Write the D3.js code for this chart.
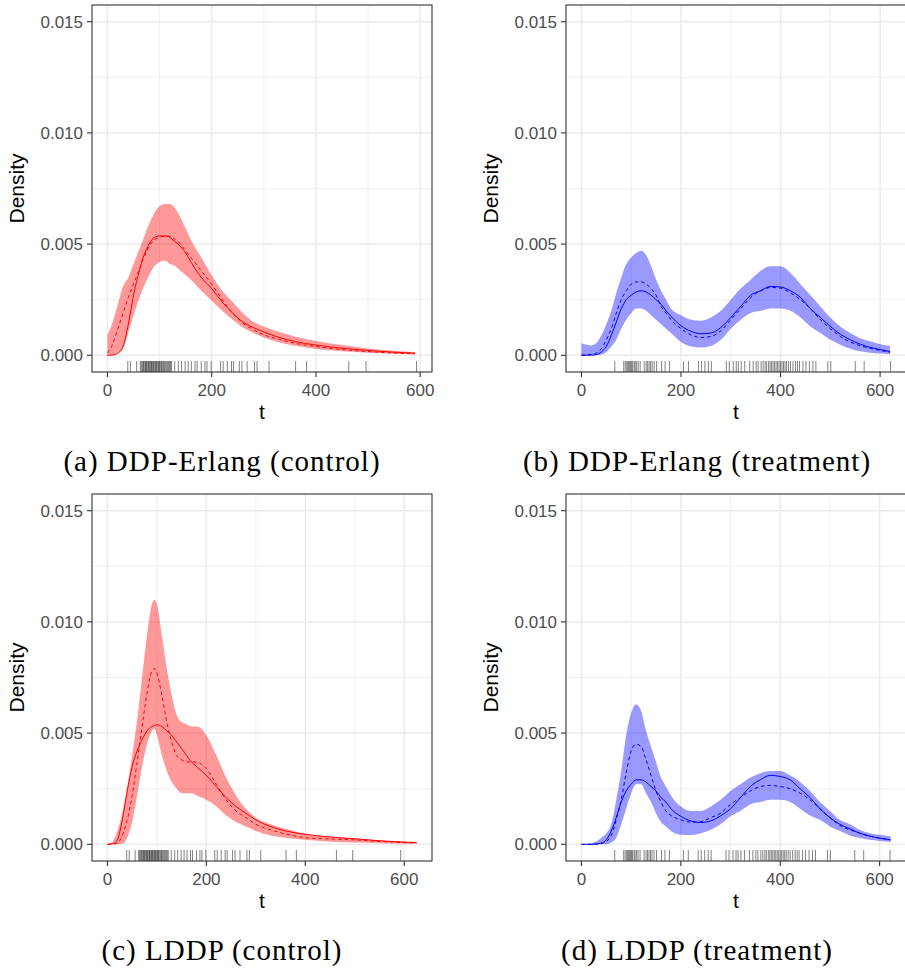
<!DOCTYPE html>
<html>
<head>
<meta charset="utf-8">
<script src="https://cdn.jsdelivr.net/npm/d3@7"></script>
<style>
  body { margin: 0; background: #fff; }
  svg { display: block; }
</style>
</head>
<body>
<div id="chart"></div>
<script>
// ---- values ----
// (a) DDP-Erlang, control
const tA      = [0,10,20,30,40,50,60,70,80,90,100,110,120,130,140,150,160,180,200,220,240,260,280,300,330,360,400,450,500,550,590];
const solidA  = [0,0.00001,0.0001,0.0004,0.0014,0.0027,0.0037,0.0045,0.0050,0.0053,0.00537,0.00537,0.0053,0.0051,0.0049,0.0046,0.0042,0.0035,0.0030,0.0024,0.0019,0.0015,0.00125,0.00105,0.0008,0.00062,0.00046,0.00032,0.00022,0.00014,0.0001];
const dashedA = [0.0001,0.0005,0.0012,0.0019,0.0026,0.0032,0.0038,0.0044,0.0049,0.0052,0.0053,0.00535,0.00535,0.0052,0.0050,0.0047,0.0044,0.0038,0.0032,0.0025,0.0019,0.00145,0.00115,0.00092,0.00072,0.00054,0.0004,0.00026,0.00017,0.0001,0.00007];
const upperA  = [0.0009,0.0015,0.0023,0.0031,0.0035,0.0041,0.0047,0.0053,0.0059,0.0064,0.0067,0.0068,0.0068,0.0066,0.0062,0.0057,0.0052,0.0044,0.0036,0.0029,0.0024,0.0019,0.0015,0.0013,0.00105,0.00085,0.00064,0.00046,0.00031,0.0002,0.00014];
const lowerA  = [0,0.00001,0.0001,0.0003,0.001,0.0018,0.0025,0.0031,0.0036,0.004,0.0042,0.00425,0.0041,0.004,0.0038,0.0036,0.0034,0.0029,0.00245,0.002,0.0016,0.00125,0.001,0.0008,0.00058,0.00043,0.00028,0.00018,0.00011,0.00007,0.00004];

// (b) DDP-Erlang, treatment
const tB      = [0,10,20,30,40,50,60,70,80,90,100,110,120,130,140,150,160,170,180,200,220,240,260,280,300,320,340,360,380,400,420,440,460,480,500,520,540,560,580,600,620];
const solidB  = [0,0,0.00001,0.00003,0.00015,0.0004,0.0009,0.0015,0.0021,0.0025,0.0027,0.00285,0.0029,0.00285,0.0027,0.0025,0.0023,0.002,0.00175,0.00133,0.00108,0.00097,0.001,0.00125,0.0017,0.0022,0.0027,0.0029,0.0031,0.00307,0.0029,0.0026,0.0021,0.0017,0.0013,0.00095,0.0007,0.0005,0.00036,0.00026,0.00017];
const dashedB = [0.00001,0.00002,0.00005,0.0001,0.0003,0.0007,0.0012,0.0019,0.0025,0.0029,0.0032,0.0033,0.0033,0.0032,0.003,0.0027,0.0022,0.0019,0.0016,0.0012,0.00092,0.0008,0.00085,0.0011,0.0016,0.0021,0.0026,0.0029,0.00305,0.00302,0.0028,0.0025,0.0021,0.0016,0.0012,0.00085,0.0006,0.00043,0.00032,0.00022,0.00014];
const upperB  = [0.00054,0.00047,0.00044,0.00055,0.0009,0.0014,0.002,0.0028,0.0035,0.0041,0.0044,0.0046,0.0047,0.0045,0.004,0.0034,0.0029,0.0025,0.0021,0.0018,0.0016,0.00155,0.0017,0.002,0.0025,0.003,0.0034,0.0038,0.004,0.004,0.0037,0.0032,0.0027,0.0022,0.0017,0.0013,0.001,0.00077,0.00063,0.0005,0.00043];
const lowerB  = [0,0,0,0.00001,0.00004,0.00015,0.0004,0.0007,0.0012,0.0016,0.0019,0.0021,0.0021,0.002,0.0018,0.0016,0.0014,0.0012,0.001,0.0006,0.0004,0.00035,0.00042,0.0007,0.0012,0.0016,0.0019,0.002,0.0021,0.0021,0.002,0.0017,0.0013,0.001,0.0007,0.00048,0.0003,0.00018,0.00012,0.00008,0.00005];

// (c) LDDP, control
const tC      = [0,10,20,30,40,50,60,70,80,90,95,100,110,120,130,140,150,160,170,180,190,200,220,240,260,280,300,330,360,400,450,500,550,600,625];
const solidC  = [0,0.00002,0.0002,0.0011,0.0024,0.0035,0.0042,0.0047,0.0051,0.0053,0.00535,0.00537,0.0053,0.0051,0.0049,0.0046,0.0043,0.004,0.0037,0.0035,0.0033,0.0031,0.0026,0.0021,0.0017,0.0014,0.0011,0.0008,0.0006,0.00045,0.00033,0.00025,0.00016,0.0001,0.00008];
const dashedC = [0,0.00001,0.00005,0.0004,0.0011,0.0022,0.0037,0.0053,0.0068,0.0078,0.0079,0.0077,0.0067,0.0055,0.0046,0.004,0.0038,0.0037,0.0037,0.0037,0.0036,0.0034,0.0027,0.002,0.0015,0.0012,0.0009,0.00065,0.00047,0.0003,0.00024,0.0002,0.00013,0.00008,0.00006];
const upperC  = [0,0.0001,0.0006,0.0014,0.0026,0.004,0.0056,0.0075,0.0094,0.0108,0.011,0.0108,0.0094,0.0079,0.0067,0.0058,0.0055,0.0054,0.0053,0.0053,0.0052,0.0049,0.004,0.003,0.0022,0.0016,0.0012,0.0009,0.0007,0.00048,0.00034,0.00026,0.00017,0.00011,0.00009];
const lowerC  = [0,0,0,0.00003,0.0003,0.001,0.0022,0.0035,0.0045,0.0051,0.0052,0.0049,0.004,0.0033,0.0028,0.0025,0.0023,0.0023,0.0023,0.0022,0.0021,0.002,0.0017,0.0013,0.001,0.0008,0.0006,0.0004,0.0003,0.0002,0.00012,0.00008,0.00005,0.00003,0.00002];

// (d) LDDP, treatment
const tD      = [0,10,20,30,40,50,60,70,80,90,100,110,120,130,140,150,160,170,180,200,220,240,260,280,300,320,340,360,380,400,420,440,460,480,500,520,540,560,580,600,622];
const solidD  = [0,0,0,0.00001,0.00006,0.0002,0.0006,0.0012,0.0019,0.0024,0.0027,0.0029,0.0029,0.0028,0.0026,0.0024,0.0021,0.0019,0.0016,0.00126,0.00105,0.00098,0.00105,0.00128,0.0016,0.0021,0.0026,0.0029,0.0031,0.00305,0.0029,0.0025,0.0021,0.0016,0.0012,0.0009,0.0007,0.0005,0.00037,0.00028,0.0002];
const dashedD = [0,0,0,0.00001,0.00004,0.00013,0.0004,0.0011,0.002,0.0032,0.0042,0.0045,0.0044,0.0038,0.0031,0.0024,0.0019,0.0015,0.0013,0.0011,0.001,0.00102,0.0012,0.0014,0.0018,0.0021,0.0024,0.0026,0.00265,0.0026,0.0025,0.0023,0.002,0.0016,0.0012,0.00085,0.00065,0.0005,0.00037,0.00028,0.0002];
const upperD  = [0,0.00001,0.00005,0.00013,0.0003,0.0005,0.0009,0.002,0.0033,0.0049,0.0059,0.0063,0.006,0.0051,0.0044,0.0037,0.003,0.0026,0.0022,0.0017,0.0015,0.0015,0.0017,0.002,0.0024,0.0027,0.003,0.0032,0.0033,0.0033,0.0031,0.0028,0.0024,0.0019,0.0015,0.0011,0.0009,0.00065,0.0005,0.00043,0.00036];
const lowerD  = [0,0,0,0,0,0,0.00008,0.0003,0.0009,0.0016,0.0023,0.0027,0.0027,0.0023,0.0019,0.0014,0.001,0.0008,0.0006,0.00043,0.00042,0.0005,0.00065,0.0009,0.00126,0.0015,0.0018,0.0019,0.002,0.002,0.0019,0.0016,0.0013,0.0011,0.0008,0.0006,0.0004,0.00028,0.0002,0.00015,0.0001];

// observed survival times (rug)
const rugControl   = [39,44,56,63,65,67,69,70,72,73,75,76,78,79,81,82,84,85,86,88,89,91,92,94,95,97,98,100,101,103,104,106,108,109,111,113,115,117,119,121,123,129,136,142,149,155,161,168,172,180,187,191,199,217,222,230,238,242,253,258,268,282,287,310,361,382,463,496,593];
const rugTreatment = [67,85,88,91,93,95,97,99,101,103,106,108,111,114,118,126,130,133,136,139,142,146,151,161,168,177,205,215,235,241,248,255,261,291,297,305,311,315,321,328,338,345,351,355,361,365,369,372,376,379,382,385,388,391,394,397,400,403,406,409,412,416,420,425,430,434,438,445,451,458,465,471,495,501,550,568,621];

const captions = ["(a) DDP-Erlang (control)", "(b) DDP-Erlang (treatment)", "(c) LDDP (control)", "(d) LDDP (treatment)"];

const yTicks  = [0, 0.005, 0.010, 0.015];
const yMinor  = [0.0025, 0.0075, 0.0125];
const xTicks  = [0, 200, 400, 600];
const xMinor  = [100, 300, 500];
const yLimits = [0, 0.015];

// ---- layout ----
const width = 905, height = 976;
const pw = 340, ph = 367;
const lefts = [92, 566];
const tops  = [5, 494];

const svg = d3.select("#chart")
  .append("svg")
  .attr("width", width)
  .attr("height", height);

const panels = [
  { t: tA, solid: solidA, dashed: dashedA, upper: upperA, lower: lowerA, rug: rugControl,   colour: "red"  },
  { t: tB, solid: solidB, dashed: dashedB, upper: upperB, lower: lowerB, rug: rugTreatment, colour: "blue" },
  { t: tC, solid: solidC, dashed: dashedC, upper: upperC, lower: lowerC, rug: rugControl,   colour: "red"  },
  { t: tD, solid: solidD, dashed: dashedD, upper: upperD, lower: lowerD, rug: rugTreatment, colour: "blue" }
];

const drawPanel = (p, i) => {
  const left = lefts[i % 2];
  const top  = tops[Math.floor(i / 2)];

  // ggplot-style 5% expansion
  const xr = d3.extent(p.t.concat(p.rug));
  const xpad = (xr[1] - xr[0]) * 0.05;
  const x = d3.scaleLinear().domain([xr[0] - xpad, xr[1] + xpad]).range([0, pw]);
  const ypad = (yLimits[1] - yLimits[0]) * 0.05;
  const y = d3.scaleLinear().domain([yLimits[0] - ypad, yLimits[1] + ypad]).range([ph, 0]);

  const g = svg.append("g").attr("transform", `translate(${left},${top})`);

  g.append("clipPath").attr("id", `clip${i}`)
    .append("rect").attr("width", pw).attr("height", ph);

  const inner = g.append("g").attr("clip-path", `url(#clip${i})`);

  // grid
  inner.selectAll(".gx-minor").data(xMinor).join("line")
    .attr("class", "gx-minor")
    .attr("x1", d => x(d)).attr("x2", d => x(d)).attr("y1", 0).attr("y2", ph)
    .attr("stroke", "#EBEBEB").attr("stroke-width", 0.8);
  inner.selectAll(".gy-minor").data(yMinor).join("line")
    .attr("class", "gy-minor")
    .attr("x1", 0).attr("x2", pw).attr("y1", d => y(d)).attr("y2", d => y(d))
    .attr("stroke", "#EBEBEB").attr("stroke-width", 0.8);
  inner.selectAll(".gx").data(xTicks).join("line")
    .attr("class", "gx")
    .attr("x1", d => x(d)).attr("x2", d => x(d)).attr("y1", 0).attr("y2", ph)
    .attr("stroke", "#EBEBEB").attr("stroke-width", 1.5);
  inner.selectAll(".gy").data(yTicks).join("line")
    .attr("class", "gy")
    .attr("x1", 0).attr("x2", pw).attr("y1", d => y(d)).attr("y2", d => y(d))
    .attr("stroke", "#EBEBEB").attr("stroke-width", 1.5);

  const pts = p.t.map((t, k) => ({ t, lo: p.lower[k], hi: p.upper[k], s: p.solid[k], d: p.dashed[k] }));

  const band = d3.area()
    .x(d => x(d.t)).y0(d => y(d.lo)).y1(d => y(d.hi))
    .curve(d3.curveMonotoneX);
  const solidLine = d3.line().x(d => x(d.t)).y(d => y(d.s)).curve(d3.curveMonotoneX);
  const dashedLine = d3.line().x(d => x(d.t)).y(d => y(d.d)).curve(d3.curveMonotoneX);

  inner.append("path").datum(pts)
    .attr("d", band)
    .attr("fill", p.colour).attr("fill-opacity", 0.4);

  inner.append("path").datum(pts)
    .attr("d", dashedLine)
    .attr("fill", "none").attr("stroke", p.colour)
    .attr("stroke-width", 1).attr("stroke-dasharray", "3.5,3");

  inner.append("path").datum(pts)
    .attr("d", solidLine)
    .attr("fill", "none").attr("stroke", p.colour)
    .attr("stroke-width", 1);

  // rug
  inner.selectAll(".rug").data(p.rug).join("line")
    .attr("class", "rug")
    .attr("x1", d => x(d)).attr("x2", d => x(d))
    .attr("y1", ph).attr("y2", ph - ph * 0.03)
    .attr("stroke", "#000").attr("stroke-opacity", 0.55).attr("stroke-width", 0.9);

  // border
  g.append("rect")
    .attr("width", pw).attr("height", ph)
    .attr("fill", "none").attr("stroke", "#333333").attr("stroke-width", 1.1);

  // axes
  g.selectAll(".ytick").data(yTicks).join("line")
    .attr("class", "ytick")
    .attr("x1", -5).attr("x2", 0).attr("y1", d => y(d)).attr("y2", d => y(d))
    .attr("stroke", "#333333").attr("stroke-width", 1.1);
  g.selectAll(".ylab").data(yTicks).join("text")
    .attr("class", "ylab")
    .attr("x", -9).attr("y", d => y(d)).attr("dy", "0.36em")
    .attr("text-anchor", "end")
    .style("font-family", "'Liberation Sans', Arial, sans-serif")
    .style("font-size", "17px").attr("fill", "#4D4D4D")
    .text(d3.format(".3f"));

  const xt = xTicks.filter(d => d >= x.domain()[0] && d <= x.domain()[1]);
  g.selectAll(".xtick").data(xt).join("line")
    .attr("class", "xtick")
    .attr("x1", d => x(d)).attr("x2", d => x(d)).attr("y1", ph).attr("y2", ph + 5)
    .attr("stroke", "#333333").attr("stroke-width", 1.1);
  g.selectAll(".xlab").data(xt).join("text")
    .attr("class", "xlab")
    .attr("x", d => x(d)).attr("y", ph + 24)
    .attr("text-anchor", "middle")
    .style("font-family", "'Liberation Sans', Arial, sans-serif")
    .style("font-size", "17px").attr("fill", "#4D4D4D")
    .text(d => d);

  g.append("text")
    .attr("x", pw / 2).attr("y", ph + 47)
    .attr("text-anchor", "middle")
    .style("font-family", "'Liberation Sans', Arial, sans-serif")
    .style("font-size", "21px").attr("fill", "#000")
    .text("t");

  g.append("text")
    .attr("transform", `translate(-68,${ph / 2}) rotate(-90)`)
    .attr("text-anchor", "middle")
    .style("font-family", "'Liberation Sans', Arial, sans-serif")
    .style("font-size", "21px").attr("fill", "#000")
    .text("Density");

  // caption under the panel
  svg.append("text")
    .attr("x", [222, 697][i % 2])
    .attr("y", top + ph + 99)
    .attr("text-anchor", "middle")
    .style("font-family", "'Liberation Serif', 'Times New Roman', serif")
    .style("font-size", "29px")
    .style("letter-spacing", "1px")
    .attr("fill", "#000")
    .text(captions[i]);
};

panels.forEach(drawPanel);
</script>
</body>
</html>
